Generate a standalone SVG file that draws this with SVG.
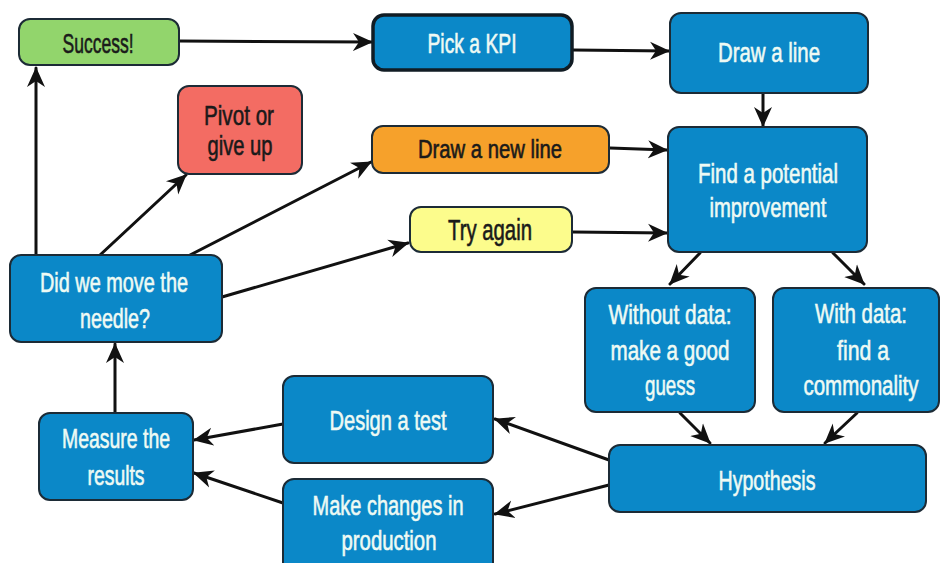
<svg xmlns="http://www.w3.org/2000/svg" width="942" height="563" viewBox="0 0 942 563">
  <style>
    .box { stroke: #1c2b36; stroke-width: 2; }
    .blue { fill: #0b88c8; }
    .green { fill: #92d56c; }
    .red { fill: #f36c63; }
    .orange { fill: #f6a12b; }
    .yellow { fill: #fcfc8c; }
    .t { font-family: "Liberation Sans", "DejaVu Sans", sans-serif; font-size: 28px; text-anchor: middle; stroke-width: 0.6; }
    .lt { fill: #eefaf4; stroke: #eefaf4; }
    .dk { fill: #1a1a1a; stroke: #1a1a1a; }
    .edge { stroke: #111; stroke-width: 3; fill: none; marker-end: url(#head); stroke-linecap: round; }
  </style>
  <defs>
    <marker id="head" viewBox="0 0 20 20" refX="19" refY="10" markerWidth="20" markerHeight="20" markerUnits="userSpaceOnUse" orient="auto">
      <path d="M0,1 L20,10 L0,19 L6,10 Z" fill="#111"/>
    </marker>
  </defs>
  <rect width="942" height="563" fill="#ffffff"/>

  <g id="connectors">
    <line class="edge" x1="179" y1="41" x2="372" y2="42"/>
    <line class="edge" x1="573" y1="50" x2="669" y2="51"/>
    <line class="edge" x1="763" y1="94" x2="763" y2="126"/>
    <line class="edge" x1="610" y1="148" x2="667" y2="150"/>
    <line class="edge" x1="573" y1="232" x2="667" y2="233"/>
    <line class="edge" x1="700" y1="253" x2="670" y2="284"/>
    <line class="edge" x1="833" y1="253" x2="864" y2="284"/>
    <line class="edge" x1="680" y1="413" x2="710" y2="443"/>
    <line class="edge" x1="857" y1="413" x2="825" y2="443"/>
    <line class="edge" x1="609" y1="460" x2="495" y2="419"/>
    <line class="edge" x1="609" y1="485" x2="495" y2="514"/>
    <line class="edge" x1="283" y1="424" x2="194" y2="440"/>
    <line class="edge" x1="283" y1="503" x2="194" y2="473"/>
    <line class="edge" x1="115" y1="413" x2="115" y2="344"/>
    <line class="edge" x1="36" y1="255" x2="36" y2="68"/>
    <line class="edge" x1="100" y1="255" x2="186" y2="175"/>
    <line class="edge" x1="190" y1="255" x2="371" y2="162"/>
    <line class="edge" x1="222" y1="297" x2="408" y2="243"/>
  </g>

  <g id="success">
    <rect class="box green" x="19" y="19" width="160" height="46" rx="11"/>
    <text class="t dk" x="98" y="53" textLength="71" lengthAdjust="spacingAndGlyphs">Success!</text>
  </g>

  <g id="pick-kpi">
    <rect class="box blue" x="373" y="15" width="199" height="55" rx="11" style="stroke-width:3.5;stroke:#111c24"/>
    <text class="t lt" x="472" y="53" textLength="89" lengthAdjust="spacingAndGlyphs">Pick a KPI</text>
  </g>

  <g id="draw-line">
    <rect class="box blue" x="670" y="13" width="198" height="80" rx="11"/>
    <text class="t lt" x="769" y="62" textLength="102" lengthAdjust="spacingAndGlyphs">Draw a line</text>
  </g>

  <g id="pivot">
    <rect class="box red" x="178" y="86" width="124" height="88" rx="11"/>
    <text class="t dk" x="239" y="125" textLength="70" lengthAdjust="spacingAndGlyphs">Pivot or</text>
    <text class="t dk" x="240" y="155" textLength="65" lengthAdjust="spacingAndGlyphs">give up</text>
  </g>

  <g id="draw-new-line">
    <rect class="box orange" x="372" y="126" width="237" height="47" rx="11"/>
    <text class="t dk" x="490" y="158" style="font-size:25px" textLength="144" lengthAdjust="spacingAndGlyphs">Draw a new line</text>
  </g>

  <g id="find-improvement">
    <rect class="box blue" x="668" y="127" width="199" height="125" rx="11"/>
    <text class="t lt" x="768" y="183" textLength="140" lengthAdjust="spacingAndGlyphs">Find a potential</text>
    <text class="t lt" x="768" y="217" textLength="117" lengthAdjust="spacingAndGlyphs">improvement</text>
  </g>

  <g id="try-again">
    <rect class="box yellow" x="410" y="207" width="162" height="45" rx="11"/>
    <text class="t dk" x="490" y="240" style="font-size:29px" textLength="84" lengthAdjust="spacingAndGlyphs">Try again</text>
  </g>

  <g id="needle">
    <rect class="box blue" x="10" y="255" width="212" height="87" rx="11"/>
    <text class="t lt" x="114" y="292" textLength="148" lengthAdjust="spacingAndGlyphs">Did we move the</text>
    <text class="t lt" x="115" y="328" textLength="70" lengthAdjust="spacingAndGlyphs">needle?</text>
  </g>

  <g id="without-data">
    <rect class="box blue" x="585" y="288" width="170" height="124" rx="11"/>
    <text class="t lt" x="670" y="324" textLength="123" lengthAdjust="spacingAndGlyphs">Without data:</text>
    <text class="t lt" x="670" y="360" textLength="119" lengthAdjust="spacingAndGlyphs">make a good</text>
    <text class="t lt" x="670" y="395" textLength="50" lengthAdjust="spacingAndGlyphs">guess</text>
  </g>

  <g id="with-data">
    <rect class="box blue" x="773" y="288" width="166" height="124" rx="11"/>
    <text class="t lt" x="861" y="323" textLength="92" lengthAdjust="spacingAndGlyphs">With data:</text>
    <text class="t lt" x="863" y="360" textLength="52" lengthAdjust="spacingAndGlyphs">find a</text>
    <text class="t lt" transform="translate(861,395) scale(0.733,1)" x="0" y="0">commonality</text>
  </g>

  <g id="design-test">
    <rect class="box blue" x="283" y="376" width="210" height="87" rx="11"/>
    <text class="t lt" x="388" y="430" textLength="117" lengthAdjust="spacingAndGlyphs">Design a test</text>
  </g>

  <g id="measure">
    <rect class="box blue" x="39" y="413" width="154" height="87" rx="11"/>
    <text class="t lt" x="116" y="448" textLength="108" lengthAdjust="spacingAndGlyphs">Measure the</text>
    <text class="t lt" x="116" y="485" textLength="57" lengthAdjust="spacingAndGlyphs">results</text>
  </g>

  <g id="hypothesis">
    <rect class="box blue" x="609" y="445" width="317" height="67" rx="11"/>
    <text class="t lt" x="767" y="490" textLength="97" lengthAdjust="spacingAndGlyphs">Hypothesis</text>
  </g>

  <g id="make-changes">
    <rect class="box blue" x="283" y="479" width="210" height="95" rx="11"/>
    <text class="t lt" x="388" y="515" textLength="151" lengthAdjust="spacingAndGlyphs">Make changes in</text>
    <text class="t lt" x="389" y="550" textLength="95" lengthAdjust="spacingAndGlyphs">production</text>
  </g>
</svg>
